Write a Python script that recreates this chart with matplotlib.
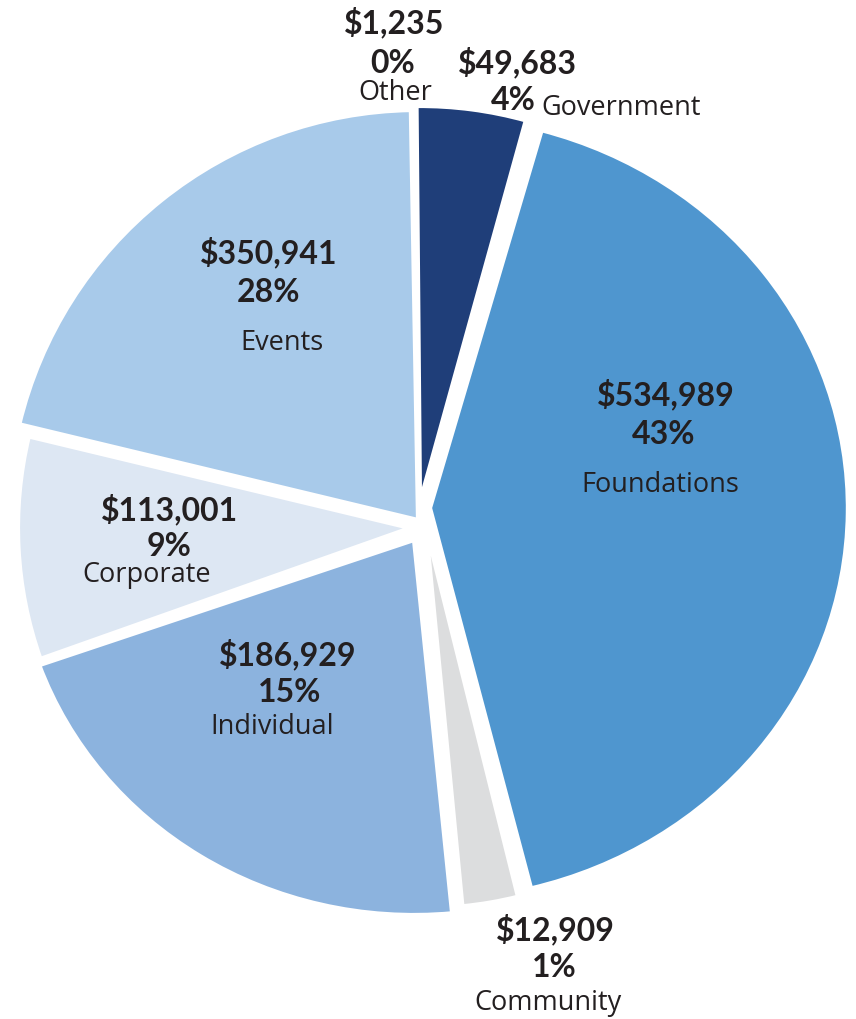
import matplotlib
matplotlib.use('Agg')
import matplotlib.pyplot as plt
import matplotlib.transforms as mtransforms

# slice names, dollar amounts and shown percentages
names = ['Other', 'Government', 'Foundations', 'Community', 'Individual', 'Corporate', 'Events']
amounts = ['$1,235', '$49,683', '$534,989', '$12,909', '$186,929', '$113,001', '$350,941']
percents = ['0%', '4%', '43%', '1%', '15%', '9%', '28%']
# wedge sizes as drawn in the picture (degrees, clockwise from top)
sweep = [0.5, 16.0, 150.5, 8.5, 76.0, 33.0, 75.5]

colors = ['#6d6e71', '#1f3e79', '#4f96cf', '#dcddde', '#8cb3de', '#dde7f3', '#a8caea']

W, H = 856, 1019
# where each wedge sits (image pixels), its radius and horizontal stretch;
# the original slices are hand-nudged rather than a clean explode
centers = [(418, 506), (420, 502), (430, 508), (426, 528), (414, 540), (410, 528), (418, 520)]
radii = [398, 396, 392, 380, 375, 392, 410]
xscale = [1, 1, 1.066, 1, 1.06, 1, 1]

fig = plt.figure(figsize=(W / 100, H / 100), dpi=100)
ax = fig.add_axes([0, 0, 1, 1])

wedges, _ = ax.pie(sweep, colors=colors, startangle=91, counterclock=False,
                   center=(420, H - 512), radius=400,
                   wedgeprops=dict(edgecolor='white', linewidth=3))
ax.set_xlim(0, W)
ax.set_ylim(0, H)
ax.set_aspect('equal')
ax.axis('off')

for w, (cx, cy), r, sx in zip(wedges, centers, radii, xscale):
    w.set_center((cx, H - cy))
    w.set_radius(r)
    if sx != 1:
        tr = mtransforms.Affine2D().translate(-cx, -(H - cy)).scale(sx, 1).translate(cx, H - cy)
        w.set_transform(tr + ax.transData)

txt = '#231f20'
bold = dict(family=['Lato', 'DejaVu Sans'], fontsize=23, fontweight='bold', color=txt)
reg = dict(family=['Open Sans', 'DejaVu Sans'], fontsize=19.5, color=txt)

# label layout: (x, baseline) in image pixels for amount, percent, name
layout = {
    'Other': [(394, 33), (393, 73), (395, 100)],
    'Foundations': [(666, 405), (664, 444), (660, 492)],
    'Community': [(555, 940), (554, 977), (548, 1010)],
    'Individual': [(288, 665), (290, 702), (272, 734)],
    'Corporate': [(170, 520), (169, 556), (147, 582)],
    'Events': [(269, 263), (269, 302), (282, 350)],
}

for i, n in enumerate(names):
    if n == 'Government':
        ax.text(517, H - 73, amounts[i], ha='center', va='baseline', **bold)
        ax.text(536, H - 110, percents[i], ha='right', va='baseline', **bold)
        ax.text(541, H - 115, n, ha='left', va='baseline', **reg)
        continue
    (ax1, ay1), (ax2, ay2), (ax3, ay3) = layout[n]
    ax.text(ax1, H - ay1, amounts[i], ha='center', va='baseline', **bold)
    ax.text(ax2, H - ay2, percents[i], ha='center', va='baseline', **bold)
    ax.text(ax3, H - ay3, n, ha='center', va='baseline', **reg)

fig.savefig('out.png', dpi=100)
